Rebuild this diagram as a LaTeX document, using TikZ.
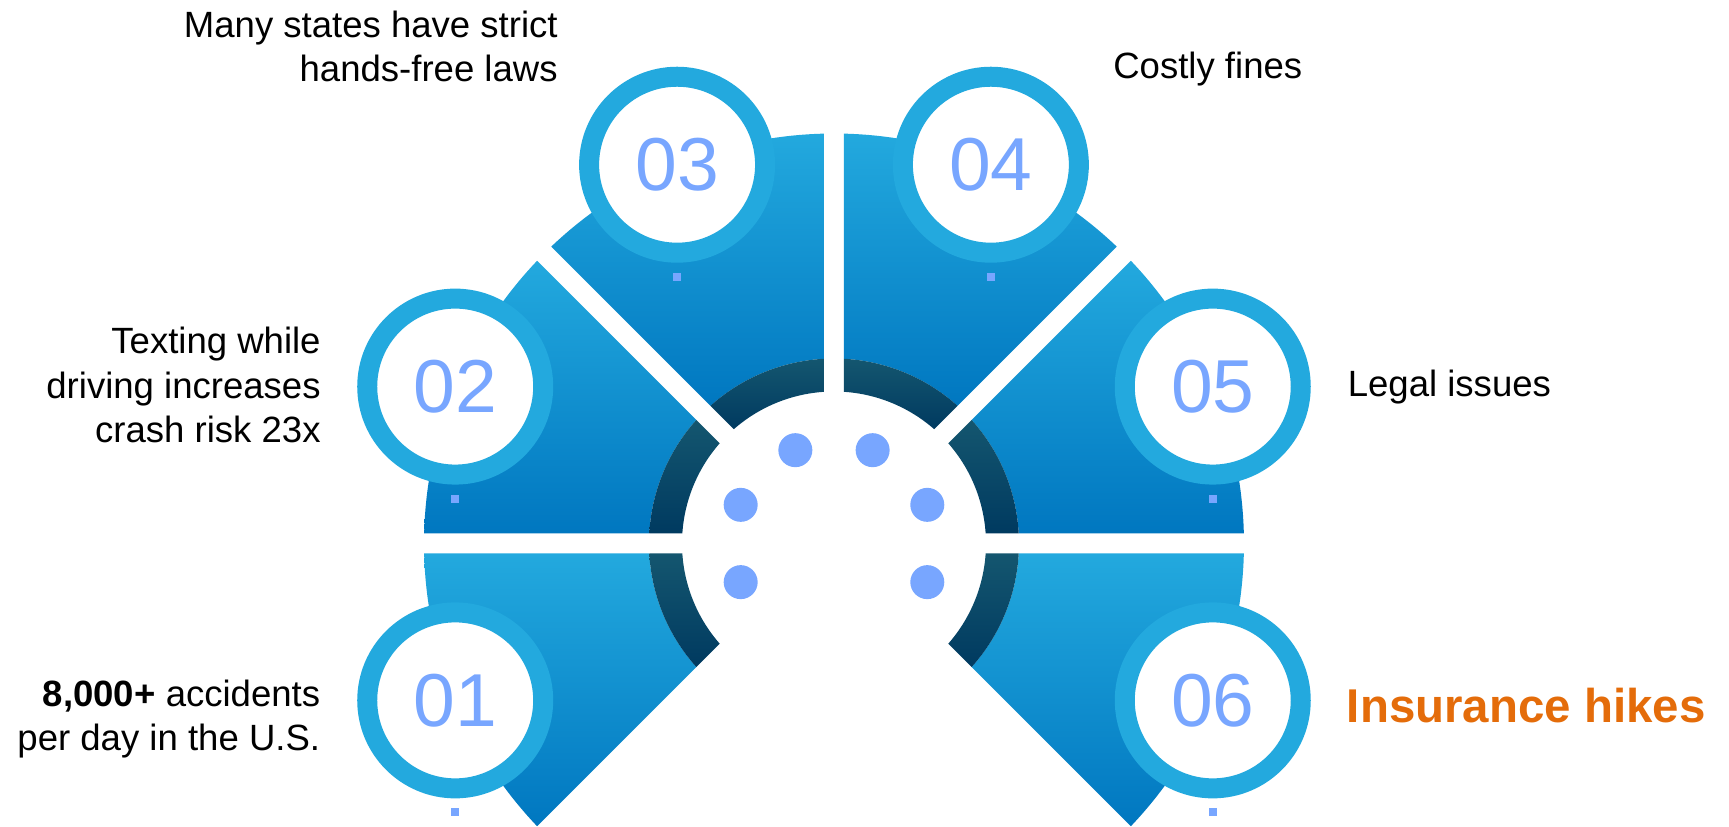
\documentclass[tikz,border=0pt]{standalone}
\usepackage{fontspec}
\setmainfont{Liberation Sans}
\usetikzlibrary{calc,positioning}
\definecolor{segtop}{HTML}{23A9DE}
\definecolor{segbot}{HTML}{0077C0}
\definecolor{ringtop}{HTML}{14566F}
\definecolor{ringbot}{HTML}{003A60}
\definecolor{numblue}{HTML}{78A6FF}
\definecolor{hikeorange}{HTML}{E46C0A}

\begin{document}
\begin{tikzpicture}[x=0.02cm, y=0.02cm,
    NUM/.style={circle, fill=white, draw=segtop, line width=0.4cm, minimum size=3.52cm, inner sep=0pt, outer sep=0pt, text=numblue, font=\fontsize{42.7}{50}\selectfont},
    MARK/.style={rectangle, fill=numblue, minimum size=0.16cm, inner sep=0pt},
    TXT/.style={inner sep=0pt, font=\fontsize{20.8}{25.3}\selectfont}
    ]
    \useasboundingbox (-834,-283.5) rectangle (895,543.5);
    % blue sectors with the dark inner ring
    \foreach \a/\b in {180/225, 135/180, 90/135, 45/90, 0/45, -45/0}{
        \shade[top color=segtop, bottom color=segbot] (\a+1.398:410) arc[start angle=\a+1.398, end angle=\b-1.398, radius=410] -- (\b-3.099:185) arc[start angle=\b-3.099, end angle=\a+3.099, radius=185] -- cycle;
        \shade[top color=ringtop, bottom color=ringbot] (\a+3.099:185) arc[start angle=\a+3.099, end angle=\b-3.099, radius=185] -- (\b-3.772:152) arc[start angle=\b-3.772, end angle=\a+3.772, radius=152] -- cycle;
        \fill[numblue] ({(\a+\b)/2}:101) circle (17);
    }
    \foreach \a/\n in {202.5/1, 157.5/2, 112.5/3, 67.5/4, 22.5/5, -22.5/6}{
        \node[NUM] (C\n) at (\a:410) {0\n};
        \node[MARK] (M\n) at ($(C\n)+(0,-112)$) {};
    }
    % base of a multi-line node is its last line
    \node[TXT, anchor=base east, align=right] (T3) at (-276,461.8) {Many states have strict\\hands-free laws};
    \node[TXT, anchor=base west] (T4) at (279,464.5) {Costly fines};
    \node[TXT, anchor=base east, align=right] (T2) at (-513,100.8) {Texting while\\driving increases\\crash risk 23x};
    \node[TXT, anchor=base west] (T5) at (513.5,146.8) {Legal issues};
    \node[TXT, anchor=base east, align=right] (T1) at (-513.5,-207.2) {\textbf{8,000+} accidents\\per day in the U.S.};
    \node[TXT, anchor=base west, text=hikeorange, font=\fontsize{27}{32}\selectfont\bfseries] (T6) at (512.5,-179.2) {Insurance hikes};
\end{tikzpicture}
\end{document}
